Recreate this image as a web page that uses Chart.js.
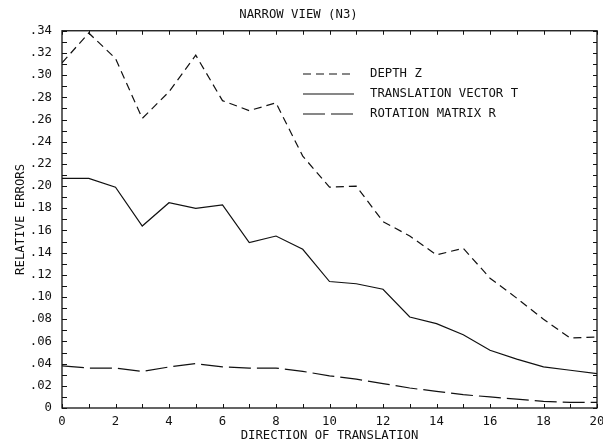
<!DOCTYPE html>
<html>
<head>
<meta charset="utf-8">
<script src="https://cdn.jsdelivr.net/npm/chart.js@4/dist/chart.umd.min.js"></script>
<style>
  html, body { margin: 0; background: #fff; }
  #wrap { width: 603px; height: 443px; }
</style>
</head>
<body>
<div id="wrap"><canvas id="chart"></canvas></div>
<script>
// Direction index 0..20
const directions = [0, 1, 2, 3, 4, 5, 6, 7, 8, 9, 10, 11, 12, 13, 14, 15, 16, 17, 18, 19, 20];

// Relative errors per direction
const depthZ = [0.311, 0.338, 0.315, 0.261, 0.285, 0.318, 0.277, 0.268, 0.275, 0.227, 0.199,
                0.200, 0.168, 0.155, 0.138, 0.144, 0.117, 0.099, 0.080, 0.063, 0.064];
const translationT = [0.207, 0.207, 0.199, 0.164, 0.185, 0.180, 0.183, 0.149, 0.155, 0.143, 0.114,
                      0.112, 0.107, 0.082, 0.076, 0.066, 0.052, 0.044, 0.037, 0.034, 0.031];
const rotationR = [0.038, 0.036, 0.036, 0.033, 0.037, 0.040, 0.037, 0.036, 0.036, 0.033, 0.029,
                   0.026, 0.022, 0.018, 0.015, 0.012, 0.010, 0.008, 0.006, 0.005, 0.005];

const seriesNames = ['DEPTH Z', 'TRANSLATION VECTOR T', 'ROTATION MATRIX R'];

const FONT = "'DejaVu Sans Mono', 'Liberation Mono', monospace";
const FSIZE = 12.3;
const INK = '#111';

function points(values) {
    return directions.map((d, i) => ({ x: d, y: values[i] }));
}

// y labels like ".34", zero as "0"
function yLabel(v) {
    const n = Math.round(v * 100);
    if (n % 2 !== 0) return '';
    if (n === 0) return '0';
    return '.' + String(n).padStart(2, '0');
}

// Box around the plot, inward ticks on all four sides, and the legend block
const frameTicks = {
    id: 'frameTicks',
    afterDraw(chart) {
        const { ctx, chartArea: a, scales: { x, y } } = chart;
        ctx.save();
        ctx.strokeStyle = INK;
        ctx.lineWidth = 1.3;
        ctx.setLineDash([]);
        ctx.strokeRect(a.left, a.top, a.right - a.left, a.bottom - a.top);

        ctx.lineWidth = 1;
        ctx.beginPath();
        x.ticks.forEach(t => {
            const px = Math.round(x.getPixelForValue(t.value)) + 0.5;
            ctx.moveTo(px, a.bottom); ctx.lineTo(px, a.bottom - 4);
            ctx.moveTo(px, a.top); ctx.lineTo(px, a.top + 4);
        });
        y.ticks.forEach(t => {
            const py = Math.round(y.getPixelForValue(t.value)) + 0.5;
            ctx.moveTo(a.left, py); ctx.lineTo(a.left + 5, py);
            ctx.moveTo(a.right, py); ctx.lineTo(a.right - 4, py);
        });
        ctx.stroke();

        // legend
        ctx.font = FSIZE + 'px ' + FONT;
        ctx.fillStyle = INK;
        ctx.textBaseline = 'middle';
        chart.data.datasets.forEach((ds, i) => {
            const ly = 74 + i * 20;
            ctx.beginPath();
            ctx.lineWidth = ds.borderWidth;
            ctx.setLineDash(ds.borderDash || []);
            ctx.moveTo(303, ly);
            ctx.lineTo(354, ly);
            ctx.stroke();
            ctx.fillText(ds.label, 370, ly);
        });
        ctx.restore();
    }
};

new Chart(document.getElementById('chart'), {
    type: 'line',
    data: {
        datasets: [
            { label: seriesNames[0], data: points(depthZ), borderDash: [8, 5] },
            { label: seriesNames[1], data: points(translationT), borderDash: [] },
            { label: seriesNames[2], data: points(rotationR), borderDash: [22, 6] }
        ].map(ds => Object.assign(ds, {
            borderColor: INK,
            borderWidth: 1.2,
            pointRadius: 0,
            tension: 0,
            fill: false
        }))
    },
    options: {
        responsive: true,
        maintainAspectRatio: false,
        animation: false,
        devicePixelRatio: 1,
        layout: { padding: { top: 0, right: 6, bottom: 0, left: 0 } },
        plugins: {
            legend: { display: false },
            tooltip: { enabled: false },
            title: {
                display: true,
                text: 'NARROW VIEW (N3)',
                color: INK,
                font: { family: FONT, size: FSIZE, weight: 'normal' },
                padding: { top: 7, bottom: 9 }
            }
        },
        scales: {
            x: {
                type: 'linear',
                min: 0,
                max: 20,
                grid: { display: false, drawTicks: false },
                border: { display: false },
                ticks: {
                    stepSize: 1,
                    autoSkip: false,
                    maxRotation: 0,
                    padding: 6,
                    color: INK,
                    font: { family: FONT, size: FSIZE },
                    callback: v => (v % 2 === 0 ? String(v) : '')
                },
                title: {
                    display: true,
                    text: 'DIRECTION OF TRANSLATION',
                    color: INK,
                    font: { family: FONT, size: FSIZE },
                    padding: { top: 0, bottom: 0 }
                },
                afterFit(s) {
                    s.height = 35;
                    s.paddingLeft = 0;
                    s.paddingRight = 0;
                }
            },
            y: {
                min: 0,
                max: 0.34,
                grid: { display: false, drawTicks: false },
                border: { display: false },
                ticks: {
                    stepSize: 0.01,
                    autoSkip: false,
                    padding: 10,
                    color: INK,
                    font: { family: FONT, size: FSIZE },
                    callback: v => yLabel(v)
                },
                title: {
                    display: true,
                    text: 'RELATIVE ERRORS',
                    color: INK,
                    font: { family: FONT, size: FSIZE },
                    padding: { top: 13, bottom: 0 }
                },
                afterFit(s) {
                    s.width = 62;
                    s.paddingTop = 0;
                    s.paddingBottom = 0;
                }
            }
        }
    },
    plugins: [frameTicks]
});
</script>
</body>
</html>
